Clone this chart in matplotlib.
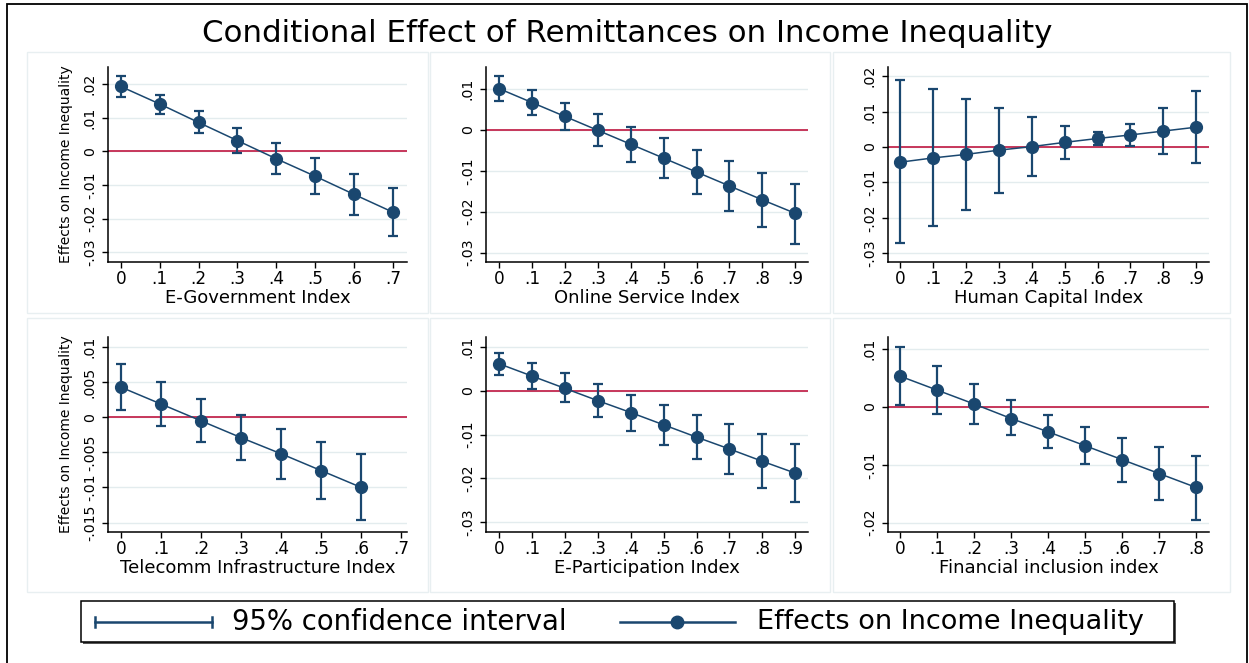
import matplotlib
matplotlib.use("Agg")
import matplotlib.pyplot as plt
from matplotlib.lines import Line2D
from matplotlib.patches import Rectangle

plt.rcParams["font.family"] = ["DejaVu Sans"]

W, H = 1249, 663
NAVY = "#1a476f"
RED = "#c3284f"
GRID = "#e3ecee"
FRAME = "#e8eff1"

title = "Conditional Effect of Remittances on Income Inequality"
ylabel = "Effects on Income Inequality"
legend_labels = ["95% confidence interval", "Effects on Income Inequality"]

# --- E-Government Index
egov_x = [0, .1, .2, .3, .4, .5, .6, .7]
egov_eff = [0.0193, 0.0141, 0.0086, 0.0032, -0.0022, -0.0074, -0.0128, -0.0181]
egov_hi = [0.0223, 0.0169, 0.0119, 0.0070, 0.0025, -0.0021, -0.0066, -0.0109]
egov_lo = [0.0163, 0.0111, 0.0054, -0.0005, -0.0066, -0.0128, -0.0189, -0.0252]

# --- Online Service Index
osi_x = [0, .1, .2, .3, .4, .5, .6, .7, .8, .9]
osi_eff = [0.0101, 0.0067, 0.0033, -0.0001, -0.0035, -0.0069, -0.0103, -0.0137, -0.0171, -0.0204]
osi_hi = [0.0131, 0.0098, 0.0067, 0.0038, 0.0008, -0.0020, -0.0048, -0.0075, -0.0105, -0.0131]
osi_lo = [0.0072, 0.0037, 0.0000, -0.0039, -0.0078, -0.0117, -0.0157, -0.0198, -0.0237, -0.0278]

# --- Human Capital Index
hci_x = [0, .1, .2, .3, .4, .5, .6, .7, .8, .9]
hci_eff = [-0.0043, -0.0031, -0.0021, -0.0009, 0.0001, 0.0013, 0.0024, 0.0034, 0.0045, 0.0056]
hci_hi = [0.0188, 0.0163, 0.0136, 0.0111, 0.0085, 0.0060, 0.0042, 0.0065, 0.0111, 0.0157]
hci_lo = [-0.0271, -0.0224, -0.0177, -0.0129, -0.0082, -0.0035, 0.0007, 0.0003, -0.0021, -0.0045]

# --- Telecomm Infrastructure Index
tii_x = [0, .1, .2, .3, .4, .5, .6]
tii_eff = [0.0043, 0.0019, -0.0005, -0.0029, -0.0052, -0.0076, -0.0100]
tii_hi = [0.0076, 0.0050, 0.0026, 0.0004, -0.0016, -0.0035, -0.0053]
tii_lo = [0.0011, -0.0012, -0.0035, -0.0061, -0.0088, -0.0117, -0.0147]

# --- E-Participation Index
epi_x = [0, .1, .2, .3, .4, .5, .6, .7, .8, .9]
epi_eff = [0.0061, 0.0033, 0.0005, -0.0023, -0.0050, -0.0078, -0.0106, -0.0133, -0.0161, -0.0188]
epi_hi = [0.0086, 0.0062, 0.0039, 0.0014, -0.0009, -0.0032, -0.0055, -0.0077, -0.0099, -0.0122]
epi_lo = [0.0035, 0.0003, -0.0027, -0.0060, -0.0092, -0.0124, -0.0156, -0.0189, -0.0222, -0.0254]

# --- Financial inclusion index
fii_x = [0, .1, .2, .3, .4, .5, .6, .7, .8]
fii_eff = [0.0053, 0.0029, 0.0005, -0.0020, -0.0043, -0.0067, -0.0091, -0.0115, -0.0139]
fii_hi = [0.0104, 0.0071, 0.0040, 0.0012, -0.0014, -0.0035, -0.0053, -0.0069, -0.0084]
fii_lo = [0.0003, -0.0012, -0.0029, -0.0049, -0.0071, -0.0099, -0.0129, -0.0161, -0.0195]

# axis ticks and their labels
xt7 = [0, .1, .2, .3, .4, .5, .6, .7]
xt8 = [0, .1, .2, .3, .4, .5, .6, .7, .8]
xt9 = [0, .1, .2, .3, .4, .5, .6, .7, .8, .9]
xl9 = ["0", ".1", ".2", ".3", ".4", ".5", ".6", ".7", ".8", ".9"]
yt_a = [0.02, 0.01, 0, -0.01, -0.02, -0.03]
yl_a = [".02", ".01", "0", "-.01", "-.02", "-.03"]
yt_b = [0.01, 0, -0.01, -0.02, -0.03]
yl_b = [".01", "0", "-.01", "-.02", "-.03"]
yt_c = [0.01, 0.005, 0, -0.005, -0.01, -0.015]
yl_c = [".01", ".005", "0", "-.005", "-.01", "-.015"]
yt_d = [0.01, 0, -0.01, -0.02]
yl_d = [".01", "0", "-.01", "-.02"]

panels = [
    # (xlabel, x, eff, lo, hi, xticks, yticks, yticklabels, box px (l, r, t, b), xlim, ylim, ylabel?)
    ("E-Government Index", egov_x, egov_eff, egov_lo, egov_hi, xt7, yt_a, yl_a,
     (108, 407, 67, 262), (-0.033, 0.736), (-0.0329, 0.0251), True),
    ("Online Service Index", osi_x, osi_eff, osi_lo, osi_hi, xt9, yt_b, yl_b,
     (486, 808, 67, 262), (-0.040, 0.9386), (-0.0323, 0.0154), False),
    ("Human Capital Index", hci_x, hci_eff, hci_lo, hci_hi, xt9, yt_a, yl_a,
     (888, 1209, 67, 262), (-0.0365, 0.9386), (-0.0325, 0.0226), False),
    ("Telecomm Infrastructure Index", tii_x, tii_eff, tii_lo, tii_hi, xt7, yt_c, yl_c,
     (108, 407, 337, 532), (-0.032, 0.714), (-0.01635, 0.01145), True),
    ("E-Participation Index", epi_x, epi_eff, epi_lo, epi_hi, xt9, yt_b, yl_b,
     (486, 808, 337, 532), (-0.040, 0.9386), (-0.0322, 0.0122), False),
    ("Financial inclusion index", fii_x, fii_eff, fii_lo, fii_hi, xt8, yt_d, yl_d,
     (888, 1209, 337, 532), (-0.0336, 0.835), (-0.0216, 0.01209), False),
]

fig = plt.figure(figsize=(W / 100, H / 100), dpi=100)
fig.patch.set_facecolor("white")

# background layer in pixel coordinates for frames and the legend
bg = fig.add_axes([0, 0, 1, 1], zorder=0)
bg.set_xlim(0, W)
bg.set_ylim(H, 0)
bg.axis("off")

# outer black frame (open at the bottom)
bg.plot([7, 7, 1247, 1247], [H, 4, 4, H], color="black", lw=1.3, solid_joinstyle="miter")

# pale frames around each panel
for (l, r, t, b) in [(27, 428, 52, 313), (430, 830, 52, 313), (833, 1230, 52, 313),
                     (27, 428, 318, 592), (430, 830, 318, 592), (833, 1230, 318, 592)]:
    bg.add_patch(Rectangle((l, t), r - l, b - t, fill=False, ec=FRAME, lw=1.0))

fig.text(627 / W, 1 - 33 / H, title, ha="center", va="center", fontsize=22.2)

for (xlab, x, eff, lo, hi, xt, yt, ytl, box, xlim, ylim, show_ylab) in panels:
    l, r, t, b = box
    ax = fig.add_axes([l / W, 1 - b / H, (r - l) / W, (b - t) / H], zorder=2)
    ax.set_facecolor("none")
    ax.set_xlim(*xlim)
    ax.set_ylim(*ylim)
    for s in ("top", "right"):
        ax.spines[s].set_visible(False)
    for s in ("left", "bottom"):
        ax.spines[s].set_linewidth(1.1)
        ax.spines[s].set_color("black")
    ax.set_xticks(xt)
    ax.set_xticklabels(xl9[:len(xt)])
    ax.set_yticks(yt)
    ax.set_yticklabels(ytl, rotation=90, va="center")
    ax.tick_params(axis="x", length=4, width=1.0, labelsize=12.2, pad=2)
    ax.tick_params(axis="y", length=4, width=1.0, labelsize=10.2, pad=4)
    for y in yt:
        ax.axhline(y, color=GRID, lw=1.0, zorder=0)
    ax.axhline(0, color=RED, lw=1.3, zorder=1)

    yerr = [[e - lo_ for e, lo_ in zip(eff, lo)], [hi_ - e for e, hi_ in zip(eff, hi)]]
    ax.errorbar(x, eff, yerr=yerr, fmt="none", ecolor=NAVY, elinewidth=1.6,
                capsize=3.8, capthick=1.6, zorder=2)
    ax.plot(x, eff, color=NAVY, lw=1.1, marker="o", markersize=8.5,
            markerfacecolor=NAVY, markeredgecolor=NAVY, zorder=3)

    ax.set_xlabel(xlab, fontsize=13, labelpad=0.5)
    if show_ylab:
        ax.set_ylabel(ylabel, fontsize=10, labelpad=7)

# legend box with drop shadow
bg.add_patch(Rectangle((83, 603), 1093, 41, fc="#555555", ec="none", zorder=1))
bg.add_patch(Rectangle((81, 601), 1093, 41, fc="white", ec="black", lw=1.1, zorder=2))
ly = 622
bg.add_line(Line2D([95, 212], [ly, ly], color=NAVY, lw=1.8, zorder=3))
bg.add_line(Line2D([95, 95], [ly - 5, ly + 5], color=NAVY, lw=1.8, zorder=3))
bg.add_line(Line2D([212, 212], [ly - 5, ly + 5], color=NAVY, lw=1.8, zorder=3))
bg.add_line(Line2D([620, 735], [ly, ly], color=NAVY, lw=1.8, zorder=3))
bg.add_line(Line2D([677], [ly], marker="o", markersize=9, color=NAVY, zorder=4))
fig.text(232 / W, 1 - ly / H, legend_labels[0], ha="left", va="center", fontsize=19.8, zorder=5)
fig.text(757 / W, 1 - ly / H, legend_labels[1], ha="left", va="center", fontsize=19.5, zorder=5)

fig.savefig("out.png", dpi=100, facecolor="white")
